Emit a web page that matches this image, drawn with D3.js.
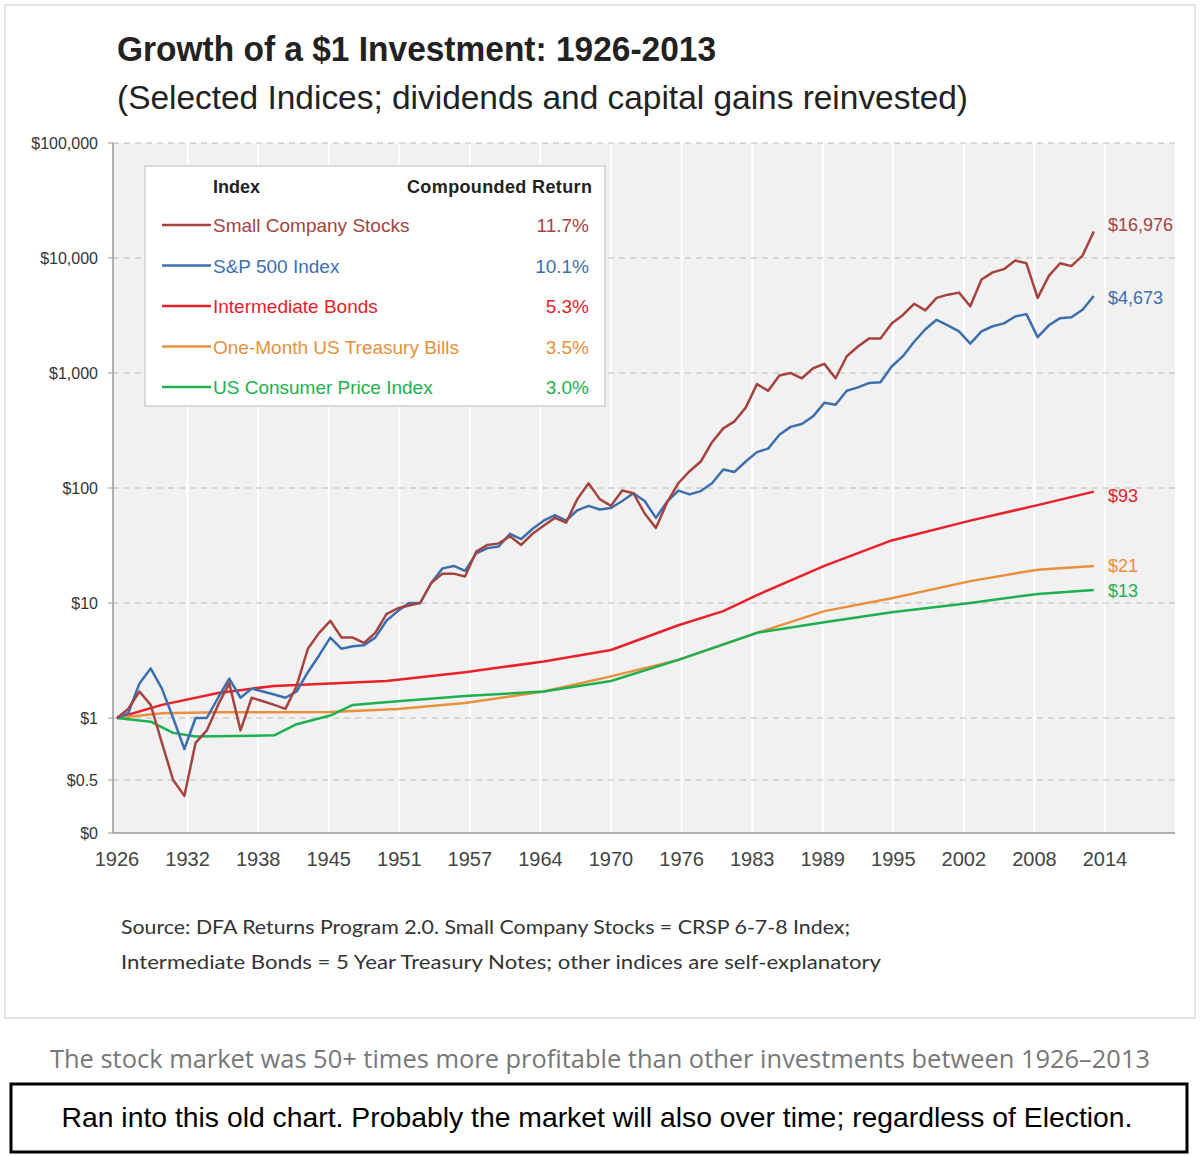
<!DOCTYPE html>
<html>
<head>
<script src="https://cdn.jsdelivr.net/npm/d3@7"></script>
<style>
  body { margin: 0; background: #fff; }
  .narrow { font-family: "Liberation Sans", Arial, sans-serif; }
</style>
</head>
<body>
<svg width="1200" height="1156"></svg>
<script>
var years = d3.range(1926, 2014);
var smallCo = [1,1.2,1.7,1.3,0.8,0.5,0.35,0.8,0.9,1.3,2.0,0.9,1.5,1.4,1.3,1.2,1.9,4,5.5,7,5,5,4.5,5.5,8,9,9.5,10,15,18,18,17,28,32,33,38,32,40,47,55,50,80,110,80,70,95,90,60,45,75,110,140,170,250,330,380,500,800,700,950,1000,900,1100,1200,900,1400,1700,2000,2000,2700,3200,4000,3500,4500,4800,5000,3800,6500,7500,8000,9500,9000,4500,7000,9000,8500,10500,16976];
var sp500 = [1,1.1,2.0,2.7,1.8,1.0,0.75,1.0,1.0,1.5,2.2,1.5,1.8,1.7,1.6,1.5,1.7,2.5,3.5,5,4,4.2,4.3,5,7,8.5,10,10,15,20,21,19,27,30,31,40,36,44,52,58,52,64,70,65,67,77,90,77,55,76,95,88,94,110,145,138,170,205,220,290,340,360,420,550,530,700,750,820,830,1140,1400,1870,2400,2900,2600,2300,1800,2300,2550,2700,3100,3250,2050,2600,3000,3050,3550,4673];
var bondYears = [1926,1930,1935,1938,1940,1945,1950,1957,1964,1970,1976,1980,1983,1989,1995,2002,2008,2013];
var bonds =     [1,1.3,1.65,1.8,1.9,2.0,2.1,2.5,3.1,3.9,6.4,8.5,11.7,21,35,52,71,93];
var billYears = [1926,1930,1935,1940,1945,1951,1957,1964,1970,1976,1983,1989,1995,2002,2008,2013];
var bills =     [1,1.1,1.12,1.12,1.13,1.2,1.35,1.7,2.3,3.2,5.5,8.5,11,15.5,19.5,21];
var cpiYears = [1926,1929,1931,1933,1940,1942,1945,1947,1951,1957,1964,1970,1976,1983,1989,1995,2002,2008,2013];
var cpi =      [1,0.97,0.88,0.85,0.86,0.95,1.05,1.3,1.4,1.55,1.7,2.1,3.2,5.5,6.8,8.3,10,12,13];

var seriesNames = ["Small Company Stocks","S&P 500 Index","Intermediate Bonds","One-Month US Treasury Bills","US Consumer Price Index"];
var returns = ["11.7%","10.1%","5.3%","3.5%","3.0%"];
var endLabels = ["$16,976","$4,673","$93","$21","$13"];
var colors = ["#a5433f","#3d6fae","#e8202a","#e8903c","#1db04f"];
var yTickVals = [0,0.5,1,10,100,1000,10000,100000];
var yTickLabels = ["$0","$0.5","$1","$10","$100","$1,000","$10,000","$100,000"];
var xTickLabels = ["1926","1932","1938","1945","1951","1957","1964","1970","1976","1983","1989","1995","2002","2008","2014"];

var svg = d3.select("svg");
svg.append("rect").attr("x",5).attr("y",5).attr("width",1190).attr("height",1013)
  .attr("fill","#fff").attr("stroke","#c8c8c8");

var pLeft = 113, pRight = 1175, pTop = 143, pBottom = 833;
var x = d3.scaleLinear().domain([1926,2014]).range([117,1105]);
var yLog = d3.scaleLog().domain([1,100000]).range([718,143]);
var yLow = d3.scaleLinear().domain([0,0.5,1]).range([833,780,718]);
function y(v){ return v >= 1 ? yLog(v) : yLow(v); }

svg.append("rect").attr("x",pLeft).attr("y",pTop).attr("width",pRight-pLeft).attr("height",pBottom-pTop).attr("fill","#f1f1f1");

var xTicks = d3.range(15).map(function(i){ return 1926 + i*88/14; });
svg.append("g").selectAll("line").data(xTicks.slice(1)).join("line")
  .attr("x1",d=>x(d)).attr("x2",d=>x(d)).attr("y1",pTop).attr("y2",pBottom)
  .attr("stroke","#fff").attr("stroke-width",2);
svg.append("g").selectAll("line").data(yTickVals.slice(1)).join("line")
  .attr("x1",pLeft).attr("x2",pRight).attr("y1",d=>y(d)).attr("y2",d=>y(d))
  .attr("stroke","#bbb").attr("stroke-dasharray","6,5");

svg.append("line").attr("x1",pLeft).attr("x2",pLeft).attr("y1",pTop).attr("y2",pBottom).attr("stroke","#999").attr("stroke-width",1.5);
svg.append("line").attr("x1",pLeft).attr("x2",pRight).attr("y1",pBottom).attr("y2",pBottom).attr("stroke","#999").attr("stroke-width",1.5);
svg.append("g").selectAll("line").data(yTickVals).join("line")
  .attr("x1",pLeft-5).attr("x2",pLeft).attr("y1",d=>y(d)).attr("y2",d=>y(d)).attr("stroke","#999");

svg.append("g").attr("class","narrow").selectAll("text").data(yTickVals).join("text")
  .attr("x",98).attr("y",d=>y(d)+6).attr("text-anchor","end")
  .attr("font-size",16).attr("fill","#333").text((d,i)=>yTickLabels[i]);
svg.append("g").attr("class","narrow").selectAll("text").data(xTicks).join("text")
  .attr("x",d=>x(d)).attr("y",866).attr("text-anchor","middle")
  .attr("font-size",20).attr("fill","#444").text((d,i)=>xTickLabels[i]);

var line = d3.line().x(d=>x(d[0])).y(d=>y(d[1]));
var series = [
  d3.zip(bondYears,bonds), d3.zip(billYears,bills), d3.zip(cpiYears,cpi),
  d3.zip(years,sp500), d3.zip(years,smallCo)
];
var order = [2,3,4,1,0];
series.forEach(function(s,i){
  svg.append("path").attr("d",line(s)).attr("fill","none")
    .attr("stroke",colors[order[i]]).attr("stroke-width",2.5).attr("stroke-linejoin","round");
});

var endVals = [smallCo[smallCo.length-1], sp500[sp500.length-1], bonds[bonds.length-1], bills[bills.length-1], cpi[cpi.length-1]];
var endOff = [-7, 2, 4, 0, 1];
svg.append("g").attr("class","narrow").selectAll("text").data(endLabels).join("text")
  .attr("x",1108).attr("y",(d,i)=>y(endVals[i])+endOff[i]+6)
  .attr("font-size",18).attr("fill",(d,i)=>colors[i]).text(d=>d);

// legend
var lg = svg.append("g").attr("class","narrow");
lg.append("rect").attr("x",145).attr("y",166).attr("width",460).attr("height",240).attr("fill","#fff").attr("stroke","#bbb");
lg.append("text").attr("x",213).attr("y",193).attr("font-size",18).attr("font-weight","bold").attr("fill","#222").text("Index");
lg.append("text").attr("x",407).attr("y",193).attr("font-size",18).attr("font-weight","bold").attr("fill","#222").attr("textLength",185).text("Compounded Return");
seriesNames.forEach(function(n,i){
  var yy = 225 + i*40.5;
  lg.append("line").attr("x1",162).attr("x2",211).attr("y1",yy).attr("y2",yy).attr("stroke",colors[i]).attr("stroke-width",2.5);
  lg.append("text").attr("x",213).attr("y",yy+7).attr("font-size",19).attr("fill",colors[i]).text(n);
  lg.append("text").attr("x",589).attr("y",yy+7).attr("text-anchor","end").attr("font-size",19).attr("fill",colors[i]).text(returns[i]);
});

svg.append("text").attr("class","narrow").attr("x",117).attr("y",61).attr("font-size",35).attr("font-weight","bold").attr("fill","#222")
  .attr("textLength",599).attr("lengthAdjust","spacingAndGlyphs").text("Growth of a $1 Investment: 1926-2013");
svg.append("text").attr("class","narrow").attr("x",117).attr("y",109).attr("font-size",34).attr("fill","#222")
  .attr("textLength",851).attr("lengthAdjust","spacingAndGlyphs").text("(Selected Indices; dividends and capital gains reinvested)");

svg.append("text").attr("x",121).attr("y",934).attr("font-family","Lato, sans-serif").attr("font-size",20).attr("fill","#333")
  .attr("textLength",729).attr("lengthAdjust","spacingAndGlyphs")
  .text("Source: DFA Returns Program 2.0. Small Company Stocks = CRSP 6-7-8 Index;");
svg.append("text").attr("x",121).attr("y",969).attr("font-family","Lato, sans-serif").attr("font-size",20).attr("fill","#333")
  .attr("textLength",760).attr("lengthAdjust","spacingAndGlyphs")
  .text("Intermediate Bonds = 5 Year Treasury Notes; other indices are self-explanatory");

svg.append("text").attr("x",600).attr("y",1068).attr("text-anchor","middle").attr("font-family","'Open Sans', sans-serif").attr("font-size",25).attr("fill","#777")
  .attr("textLength",1100).attr("lengthAdjust","spacingAndGlyphs")
  .text("The stock market was 50+ times more profitable than other investments between 1926\u20132013");
svg.append("rect").attr("x",11).attr("y",1084).attr("width",1176).attr("height",68).attr("fill","#fff").attr("stroke","#000").attr("stroke-width",3);
svg.append("text").attr("x",597).attr("y",1127).attr("text-anchor","middle").attr("font-family","'Liberation Sans', Arial, sans-serif").attr("font-size",28).attr("fill","#000")
  .attr("textLength",1071).attr("lengthAdjust","spacingAndGlyphs")
  .text("Ran into this old chart. Probably the market will also over time; regardless of Election.");
</script>
</body>
</html>
